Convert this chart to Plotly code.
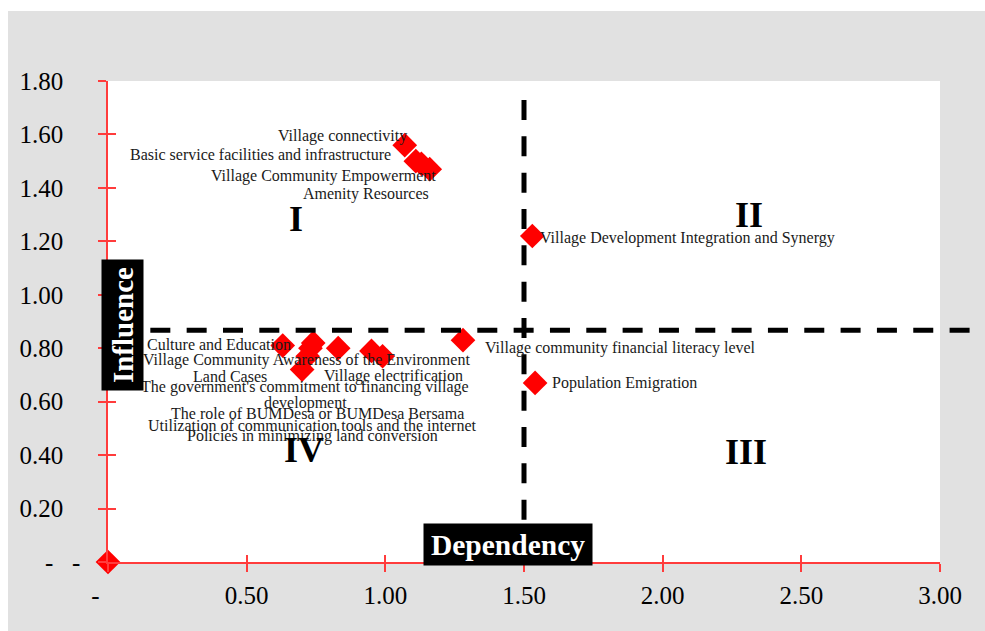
import plotly.graph_objects as go

# ---------------- data ----------------
labels = [
    "Village connectivity",
    "Basic service facilities and infrastructure",
    "Village Community Empowerment",
    "Amenity Resources",
    "Village Development Integration and Synergy",
    "Culture and Education",
    "Village Community Awareness of the Environment",
    "Land Cases",
    "Village electrification",
    "The government's commitment to financing village<br>development",
    "The role of BUMDesa or BUMDesa Bersama",
    "Utilization of communication tools and the internet",
    "Policies in minimizing land conversion",
    "Village community financial literacy level",
    "Population Emigration",
    "",
]
dependency = [1.07, 1.11, 1.13, 1.16, 1.53, 0.63, 0.74, 0.70, 0.99, 0.95, 0.83, 0.72, 0.73, 1.28, 1.54, 0.00]
influence = [1.56, 1.50, 1.49, 1.47, 1.22, 0.81, 0.82, 0.72, 0.77, 0.79, 0.80, 0.77, 0.80, 0.83, 0.67, 0.00]

# label placement (data units, text centre)
label_x = [0.844, 0.549, 0.777, 0.931, 2.091, 0.401, 0.717, 0.441, 1.028, 0.712, 0.754, 0.734, 0.737, 1.849, 1.863, 0]
label_y = [1.596, 1.525, 1.443, 1.376, 1.211, 0.815, 0.755, 0.695, 0.695, 0.626, 0.557, 0.512, 0.471, 0.800, 0.669, 0]

x_ticks = [0, 0.5, 1.0, 1.5, 2.0, 2.5, 3.0]
x_ticktext = ["-\u00a0\u00a0\u00a0\u00a0", "0.50", "1.00", "1.50", "2.00", "2.50", "3.00"]
y_ticks = [0, 0.2, 0.4, 0.6, 0.8, 1.0, 1.2, 1.4, 1.6, 1.8]
y_ticktext = ["", "0.20", "0.40", "0.60", "0.80", "1.00", "1.20", "1.40", "1.60", "1.80"]

dependency_cut = 1.5
influence_cut = 0.867

quadrants = ["I", "II", "III", "IV"]
quad_x = [0.679, 2.313, 2.302, 0.705]
quad_y = [1.282, 1.297, 0.411, 0.419]

X_RANGE = [0, 3]
Y_RANGE = [0, 1.8]

# ---------------- figure ----------------
W, H = 985, 631
ML, MR, MT, MB = 108, 45, 81, 69
PW, PH = W - ML - MR, H - MT - MB

def px_x(px):
    return (px - ML) / PW

def px_y(py):
    return (H - MB - py) / PH

SERIF = "Liberation Serif, Times New Roman, serif"
AXIS_RED = "#ff3c3c"
DASH = "20px,16.33px"

fig = go.Figure()
fig.add_trace(go.Scatter(
    x=dependency, y=influence, mode="markers",
    marker=dict(symbol="diamond", size=19, color="#ff0000", line=dict(width=0)),
    cliponaxis=False, showlegend=False, text=labels, hoverinfo="text",
))
fig.add_trace(go.Scatter(x=[None], y=[None], xaxis="x2", yaxis="y2",
                         showlegend=False, hoverinfo="skip"))

h_cut_paper = (influence_cut - Y_RANGE[0]) / (Y_RANGE[1] - Y_RANGE[0])
v_cut_paper = (dependency_cut - X_RANGE[0]) / (X_RANGE[1] - X_RANGE[0])

shapes = [
    dict(type="rect", xref="paper", yref="paper", x0=px_x(8), x1=px_x(990),
         y0=px_y(640), y1=px_y(11), fillcolor="#e1e1e1", line=dict(width=0), layer="below"),
    dict(type="rect", xref="paper", yref="paper", x0=0, x1=1, y0=0, y1=1,
         fillcolor="white", line=dict(width=0), layer="below"),
    # quadrant dividers
    dict(type="line", xref="paper", yref="paper",
         x0=px_x(114), x1=px_x(971), y0=h_cut_paper, y1=h_cut_paper,
         line=dict(color="black", width=5, dash=DASH)),
    dict(type="line", xref="paper", yref="paper",
         x0=v_cut_paper, x1=v_cut_paper, y0=px_y(100), y1=0,
         line=dict(color="black", width=5, dash=DASH)),
]

annotations = []
for txt, lx, ly in zip(labels, label_x, label_y):
    if not txt:
        continue
    lines = txt.split("<br>")
    n = len(lines)
    for i, line in enumerate(lines):
        annotations.append(dict(
            x=lx, y=ly, xref="x", yref="y", text=line, showarrow=False,
            xanchor="center", yanchor="middle", yshift=((n - 1) / 2 - i) * 16,
            font=dict(family=SERIF, size=16, color="#1a1a1a"),
        ))

for q, qx, qy in zip(quadrants, quad_x, quad_y):
    annotations.append(dict(
        x=qx, y=qy, xref="x", yref="y", text=f"<b>{q}</b>", showarrow=False,
        xanchor="center", yanchor="middle",
        font=dict(family=SERIF, size=36, color="black"),
    ))

annotations.append(dict(
    x=px_x(122.5), y=px_y(325.5), xref="paper", yref="paper",
    text="<b>\u200aInfluence\u200a</b>", textangle=-90, showarrow=False,
    xanchor="center", yanchor="middle", bgcolor="black", borderpad=4.5,
    font=dict(family=SERIF, size=29, color="white"),
))
annotations.append(dict(
    x=px_x(508), y=px_y(544), xref="paper", yref="paper",
    text="<b>\u200aDependency\u200a</b>", showarrow=False,
    xanchor="center", yanchor="middle", bgcolor="black", borderpad=4.5,
    font=dict(family=SERIF, size=29.5, color="white"),
))
# zero label on the influence axis (accounting style dash)
annotations.append(dict(
    x=px_x(62), y=0, xref="paper", yref="y",
    text="-\u00a0\u00a0\u00a0-", showarrow=False, xanchor="center", yanchor="middle",
    font=dict(family=SERIF, size=25, color="black"),
))

axis_common = dict(showgrid=False, zeroline=False)

fig.update_layout(
    width=W, height=H,
    margin=dict(l=ML, r=MR, t=MT, b=MB, pad=0),
    paper_bgcolor="white", plot_bgcolor="white",
    showlegend=False,
    shapes=shapes, annotations=annotations,
    xaxis=dict(range=X_RANGE, tickmode="array", tickvals=x_ticks, ticktext=x_ticktext,
               showline=True, linecolor=AXIS_RED, linewidth=1.5,
               ticks="outside", ticklen=8, tickwidth=1.5, tickcolor=AXIS_RED,
               ticklabelstandoff=2,
               tickfont=dict(family=SERIF, size=25, color="black"), **axis_common),
    yaxis=dict(range=Y_RANGE, tickmode="array", tickvals=y_ticks, ticktext=y_ticktext,
               showline=True, linecolor=AXIS_RED, linewidth=1.5,
               ticks="outside", ticklen=8, tickwidth=1.5, tickcolor=AXIS_RED,
               ticklabelstandoff=30,
               tickfont=dict(family=SERIF, size=25, color="black"), **axis_common),
    xaxis2=dict(range=X_RANGE, overlaying="x", anchor="y2", side="bottom",
                tickmode="array", tickvals=x_ticks, ticks="inside", ticklen=7,
                tickwidth=1.5, tickcolor=AXIS_RED, showticklabels=False,
                showline=False, **axis_common),
    yaxis2=dict(range=Y_RANGE, overlaying="y", anchor="x2", side="left",
                tickmode="array", tickvals=y_ticks, ticks="inside", ticklen=8,
                tickwidth=1.5, tickcolor=AXIS_RED, showticklabels=False,
                showline=False, **axis_common),
)

fig.write_html(
    "out.html",
    config={"displayModeBar": False},
    post_script="document.body.style.margin='0px';document.body.style.overflow='hidden';",
)
